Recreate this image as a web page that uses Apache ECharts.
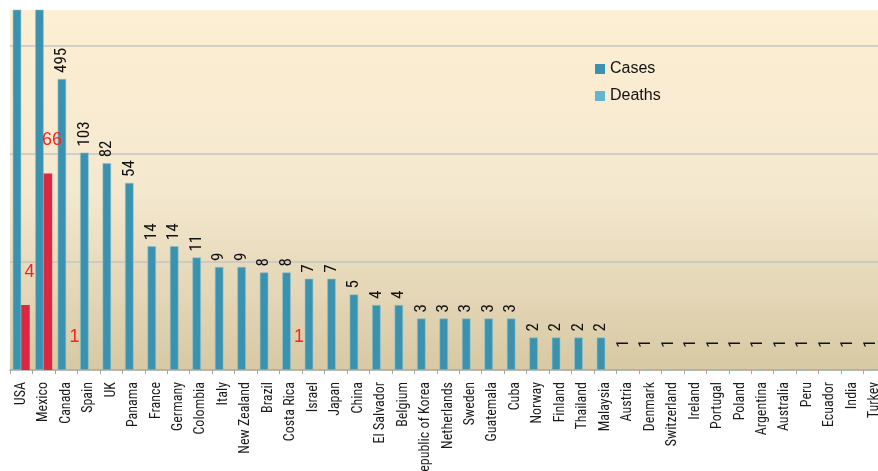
<!DOCTYPE html>
<html>
<head>
<meta charset="utf-8">
<script src="https://cdn.jsdelivr.net/npm/echarts@6/dist/echarts.min.js"></script>
<style>
  html, body { margin: 0; padding: 0; background: #ffffff; }
  #chart { width: 878px; height: 471px; }
</style>
</head>
<body>
<div id="chart"></div>
<script>
const categories = ['USA', 'Mexico', 'Canada', 'Spain', 'UK', 'Panama', 'France', 'Germany', 'Colombia', 'Italy',
  'New Zealand', 'Brazil', 'Costa Rica', 'Israel', 'Japan', 'China', 'El Salvador', 'Belgium', 'Republic of Korea',
  'Netherlands', 'Sweden', 'Guatemala', 'Cuba', 'Norway', 'Finland', 'Thailand', 'Malaysia', 'Austria', 'Denmark',
  'Switzerland', 'Ireland', 'Portugal', 'Poland', 'Argentina', 'Australia', 'Peru', 'Ecuador', 'India', 'Turkey'];

const cases = [4714, 2895, 495, 103, 82, 54, 14, 14, 11, 9,
  9, 8, 8, 7, 7, 5, 4, 4, 3,
  3, 3, 3, 3, 2, 2, 2, 2, 1, 1,
  1, 1, 1, 1, 1, 1, 1, 1, 1, 1];

const deaths = [4, 66, 1, null, null, null, null, null, null, null,
  null, null, 1, null, null, null, null, null, null,
  null, null, null, null, null, null, null, null, null, null,
  null, null, null, null, null, null, null, null, null, null];

const Y_MIN = 1;
const Y_MAX = 2154;

const NARROW = '"Liberation Sans Narrow", "Arial Narrow", "Roboto Condensed", sans-serif';

const chart = echarts.init(document.getElementById('chart'), null, { renderer: 'canvas' });

const option = {
  backgroundColor: '#ffffff',
  animation: false,
  grid: {
    left: 10,
    top: 10,
    width: 876,
    height: 360,
    containLabel: false,
    outerBoundsMode: 'none',
    show: true,
    borderWidth: 0,
    backgroundColor: new echarts.graphic.LinearGradient(0, 0, 0, 1, [
      { offset: 0, color: '#fdefd3' },
      { offset: 0.5, color: '#f4e8cf' },
      { offset: 1, color: '#d8c9a4' }
    ])
  },
  legend: {
    orient: 'vertical',
    left: 590,
    top: 55,
    itemWidth: 10,
    itemHeight: 10,
    itemGap: 9,
    icon: 'rect',
    itemStyle: { borderWidth: 0 },
    textStyle: { fontSize: 16, color: '#111111', fontFamily: '"Liberation Sans", Arial, sans-serif', lineHeight: 18 },
    data: ['Cases', 'Deaths']
  },
  xAxis: {
    type: 'category',
    data: categories,
    boundaryGap: true,
    axisLine: { show: true, lineStyle: { color: '#aaa59b', width: 1.5 } },
    axisTick: { show: true, interval: 0, length: 4, lineStyle: { color: '#aaa59b' } },
    axisLabel: {
      interval: 0,
      rotate: 90,
      margin: 12,
      fontSize: 14,
      color: '#1a1a1a',
      fontFamily: NARROW
    },
    splitLine: { show: false }
  },
  yAxis: {
    type: 'log',
    logBase: 10,
    min: Y_MIN,
    max: Y_MAX,
    axisLine: { show: false },
    axisTick: { show: false },
    axisLabel: { show: false },
    splitLine: {
      show: true,
      showMinLine: false,
      showMaxLine: false,
      lineStyle: { color: '#c4c4c4', width: 1.5 }
    }
  },
  series: [
    {
      name: 'Cases',
      type: 'bar',
      barWidth: 8.5,
      barGap: '0%',
      itemStyle: { color: '#3a92ae', borderColor: '#8fc3cf', borderWidth: 0.6 },
      label: {
        show: true,
        position: 'top',
        rotate: 90,
        align: 'left',
        verticalAlign: 'middle',
        distance: 6,
        fontSize: 17,
        color: '#111111',
        fontFamily: NARROW,
        formatter: p => (p.value > Y_MAX ? '' : String(p.value))
      },
      data: cases.map(v => (v === 1 ? { value: v, label: { distance: 22 } } : v))
    },
    {
      name: 'Deaths',
      type: 'bar',
      barWidth: 8.5,
      itemStyle: { color: '#62b5cf' },
      label: {
        show: true,
        position: 'top',
        distance: 24,
        offset: [4, 0],
        fontSize: 18,
        color: '#ff1f1f',
        fontFamily: '"Liberation Sans", Arial, sans-serif',
        formatter: p => (p.value == null ? '' : String(p.value))
      },
      data: deaths.map(v => (v == null ? null : { value: v, itemStyle: { color: '#dc2743' } }))
    }
  ]
};

chart.setOption(option);
</script>
</body>
</html>
